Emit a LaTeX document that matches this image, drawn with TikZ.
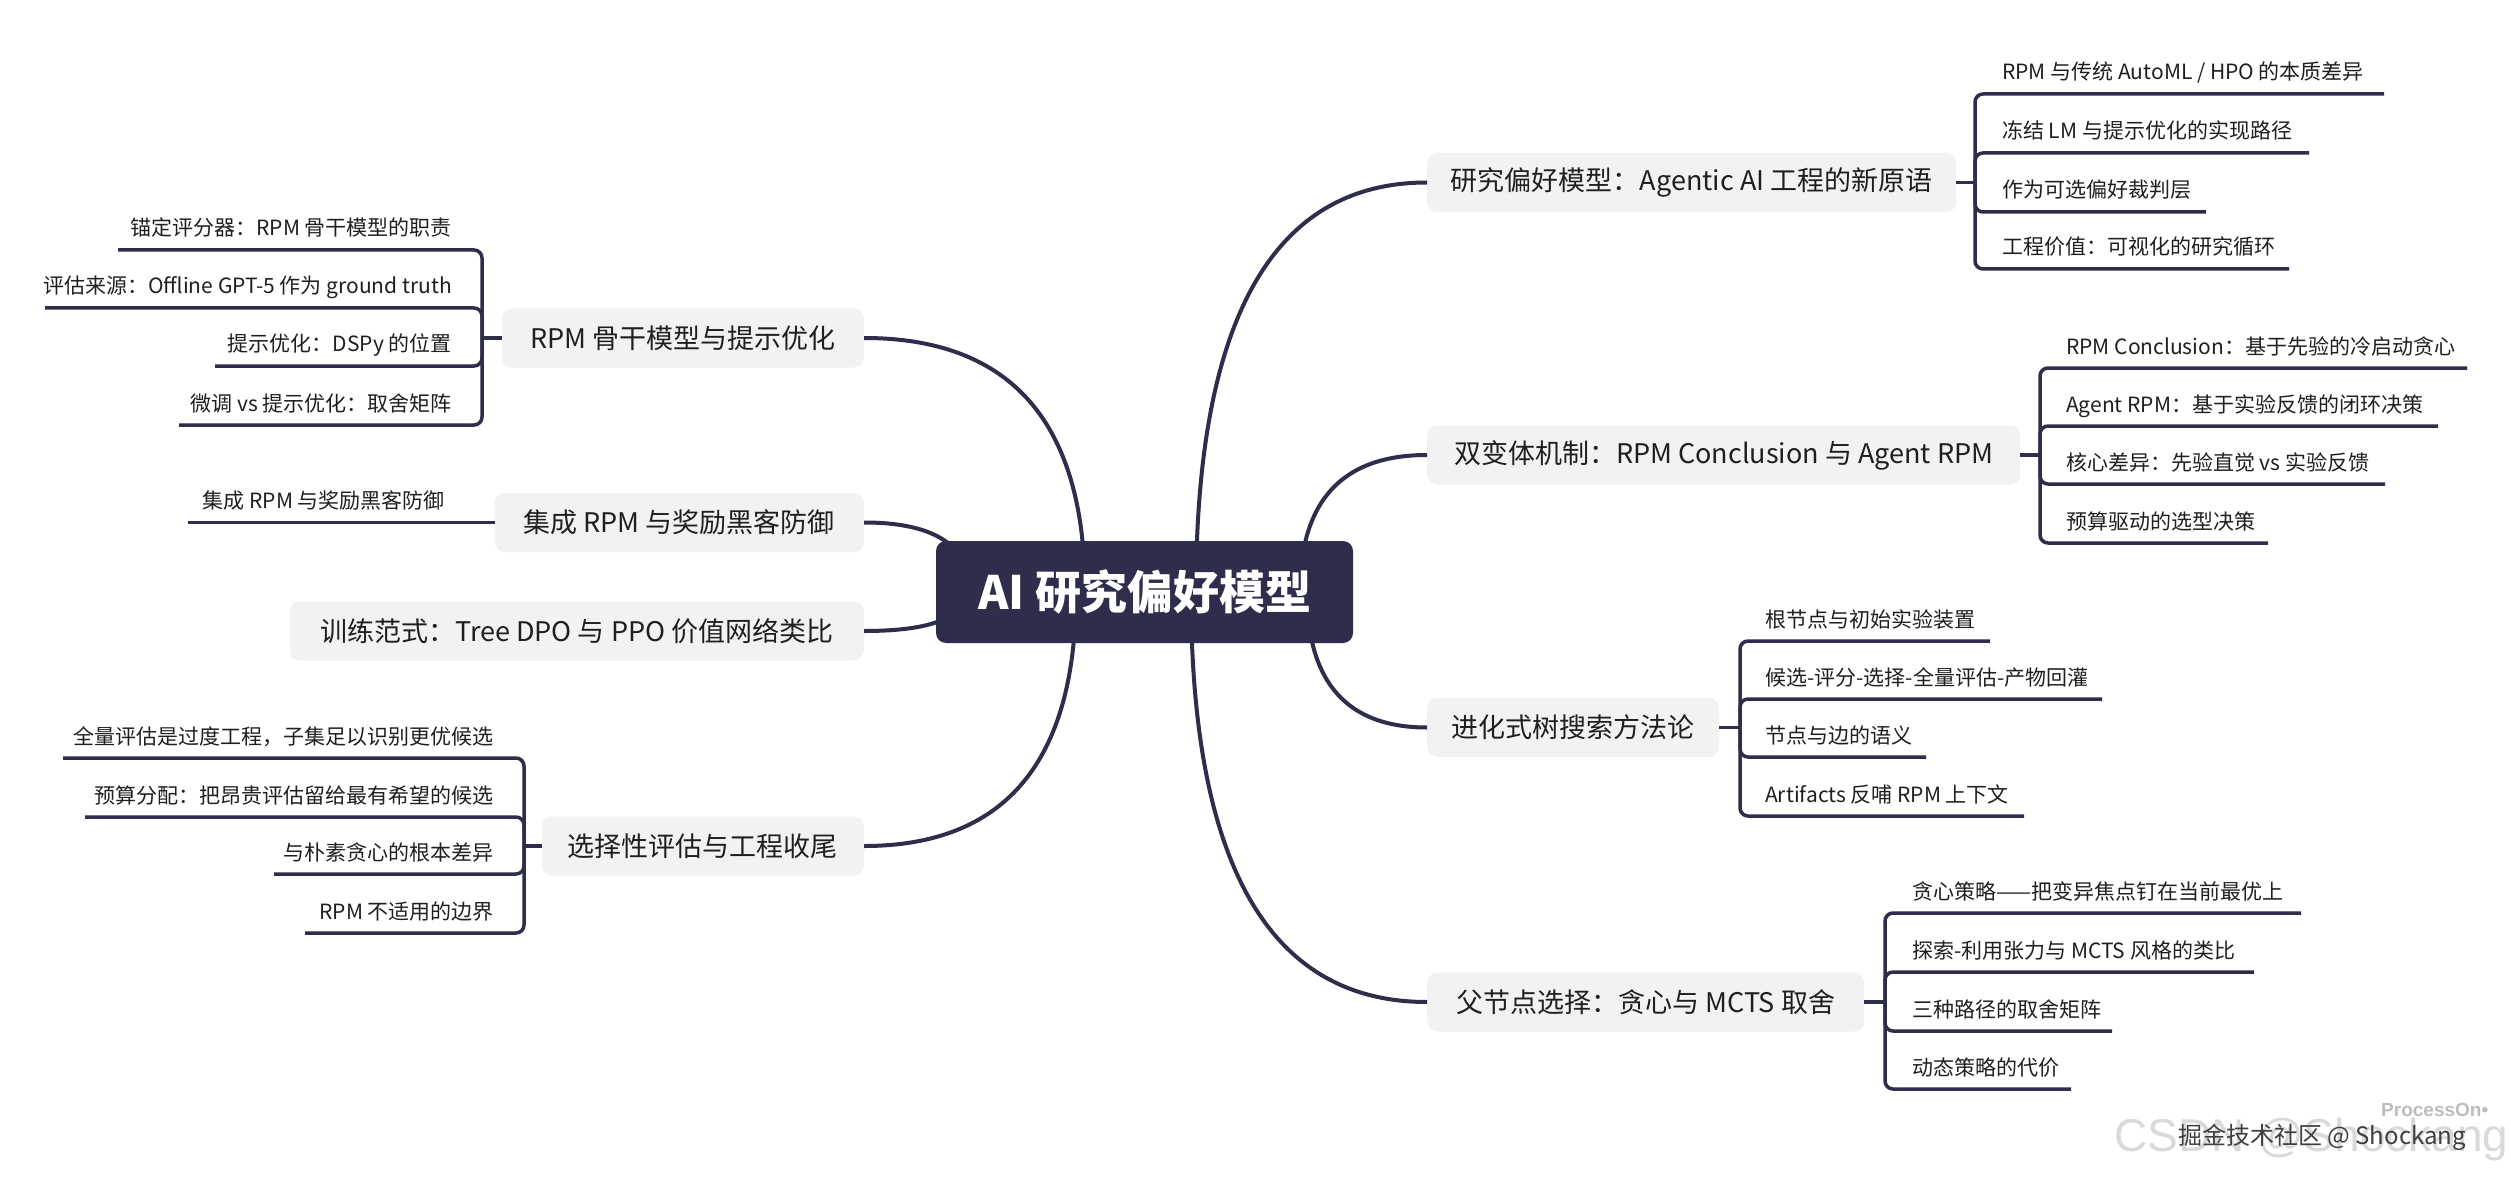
\documentclass[tikz,border=0pt]{standalone}
\usepackage{fontspec}
\setmainfont{Noto Sans CJK SC}
\newfontfamily\wmfont{Liberation Sans}
\usetikzlibrary{calc}
\definecolor{navy}{HTML}{2E2D4B}
\definecolor{boxgray}{HTML}{F2F2F3}
\definecolor{txt}{HTML}{1F1F1F}
\definecolor{wmlight}{HTML}{D9D9D9}
\definecolor{wmmid}{HTML}{BDBDBD}
\definecolor{wmdark}{HTML}{3F3F3F}
\newcommand\mmcurve[2]{\draw[branch] (#1) .. controls ($(#1)!0.6667!(#1|-#2)$) and ($(#2)!0.6667!(#1|-#2)$) .. (#2);}
\tikzset{
  rootbox/.style={fill=navy, rounded corners=10pt, text=white, font=\fontsize{46}{52}\selectfont\bfseries, minimum width=417pt, minimum height=102pt, inner sep=0pt},
  mainbox/.style={fill=boxgray, rounded corners=10pt, text=txt, font=\fontsize{27}{32}\selectfont, minimum height=59pt, inner xsep=23pt, inner ysep=0pt},
  subtext/.style={text=txt, font=\fontsize{21}{25}\selectfont, inner sep=0pt},
  branch/.style={draw=navy, line width=4pt},
  subline/.style={draw=navy, line width=3.5pt, rounded corners=8pt},
}
\begin{document}
\begin{tikzpicture}[x=1pt, y=-1pt]
\fill[white] (0,0) rectangle (2511,1182);
\useasboundingbox (0,0) rectangle (2511,1182);

% ---------- main nodes, right ----------
\node[mainbox, anchor=west, minimum width=529pt] (R1) at (1427,182.5) {研究偏好模型：Agentic AI 工程的新原语};
\node[mainbox, anchor=west, minimum width=593pt] (R2) at (1427,455) {双变体机制：RPM Conclusion 与 Agent RPM};
\node[mainbox, anchor=west, minimum width=292pt] (R3) at (1427,727.5) {进化式树搜索方法论};
\node[mainbox, anchor=west, minimum width=437pt] (R4) at (1427,1002) {父节点选择：贪心与 MCTS 取舍};
% ---------- main nodes, left ----------
\node[mainbox, anchor=east, minimum width=362pt] (L1) at (864,338) {RPM 骨干模型与提示优化};
\node[mainbox, anchor=east, minimum width=369pt] (L2) at (864,522.5) {集成 RPM 与奖励黑客防御};
\node[mainbox, anchor=east, minimum width=574pt] (L3) at (864,631) {训练范式：Tree DPO 与 PPO 价值网络类比};
\node[mainbox, anchor=east, minimum width=322pt] (L4) at (864,846) {选择性评估与工程收尾};

% ---------- R1 children ----------
\coordinate (b1) at (1975,182.5);
\draw[subline] (R1.east) -- (b1);
\node[subtext, anchor=base west] (r1a) at (2002,80) {RPM 与传统 AutoML / HPO 的本质差异};
\node[subtext, anchor=base west] (r1b) at (2002,139) {冻结 LM 与提示优化的实现路径};
\node[subtext, anchor=base west] (r1c) at (2002,198) {作为可选偏好裁判层};
\node[subtext, anchor=base west] (r1d) at (2002,255) {工程价值：可视化的研究循环};
\coordinate (r1ae) at (2384,94);
\coordinate (r1be) at (2309,153);
\coordinate (r1ce) at (2206,212);
\coordinate (r1de) at (2289,269);
\foreach \e in {r1ae,r1be,r1ce,r1de} \draw[subline] (b1) |- (\e);

% ---------- R2 children ----------
\coordinate (b2) at (2040,455);
\draw[subline] (R2.east) -- (b2);
\node[subtext, anchor=base west] (r2a) at (2066,354) {RPM Conclusion：基于先验的冷启动贪心};
\node[subtext, anchor=base west] (r2b) at (2066,412) {Agent RPM：基于实验反馈的闭环决策};
\node[subtext, anchor=base west] (r2c) at (2066,470) {核心差异：先验直觉 vs 实验反馈};
\node[subtext, anchor=base west] (r2d) at (2066,529) {预算驱动的选型决策};
\coordinate (r2ae) at (2467,368);
\coordinate (r2be) at (2438,426);
\coordinate (r2ce) at (2385,484);
\coordinate (r2de) at (2268,543);
\foreach \e in {r2ae,r2be,r2ce,r2de} \draw[subline] (b2) |- (\e);

% ---------- R3 children ----------
\coordinate (b3) at (1740,727.5);
\draw[subline] (R3.east) -- (b3);
\node[subtext, anchor=base west] (r3a) at (1765,627) {根节点与初始实验装置};
\node[subtext, anchor=base west] (r3b) at (1765,685) {候选-评分-选择-全量评估-产物回灌};
\node[subtext, anchor=base west] (r3c) at (1765,743) {节点与边的语义};
\node[subtext, anchor=base west] (r3d) at (1765,802) {Artifacts 反哺 RPM 上下文};
\coordinate (r3ae) at (1990,641);
\coordinate (r3be) at (2102,699);
\coordinate (r3ce) at (1926,757);
\coordinate (r3de) at (2024,816);
\foreach \e in {r3ae,r3be,r3ce,r3de} \draw[subline] (b3) |- (\e);

% ---------- R4 children ----------
\coordinate (b4) at (1885,1002);
\draw[subline] (R4.east) -- (b4);
\node[subtext, anchor=base west] (r4a) at (1912,899) {贪心策略——把变异焦点钉在当前最优上};
\node[subtext, anchor=base west] (r4b) at (1912,958) {探索-利用张力与 MCTS 风格的类比};
\node[subtext, anchor=base west] (r4c) at (1912,1017) {三种路径的取舍矩阵};
\node[subtext, anchor=base west] (r4d) at (1912,1075) {动态策略的代价};
\coordinate (r4ae) at (2301,913);
\coordinate (r4be) at (2254,972);
\coordinate (r4ce) at (2112,1031);
\coordinate (r4de) at (2071,1089);
\foreach \e in {r4ae,r4be,r4ce,r4de} \draw[subline] (b4) |- (\e);

% ---------- L1 children ----------
\coordinate (c1) at (482,338);
\draw[subline] (L1.west) -- (c1);
\node[subtext, anchor=base east] (l1a) at (452,236) {锚定评分器：RPM 骨干模型的职责};
\node[subtext, anchor=base east] (l1b) at (452,294) {评估来源：Offline GPT-5 作为 ground truth};
\node[subtext, anchor=base east] (l1c) at (452,352) {提示优化：DSPy 的位置};
\node[subtext, anchor=base east] (l1d) at (452,411) {微调 vs 提示优化：取舍矩阵};
\coordinate (l1ae) at (118,250);
\coordinate (l1be) at (45,308);
\coordinate (l1ce) at (215,366);
\coordinate (l1de) at (179,425);
\foreach \e in {l1ae,l1be,l1ce,l1de} \draw[subline] (c1) |- (\e);

% ---------- L2 child ----------
\node[subtext, anchor=base east] (l2a) at (445,508) {集成 RPM 与奖励黑客防御};
\coordinate (l2ae) at (188,522.5);
\draw[subline] (L2.west) -- (l2ae);

% ---------- L4 children ----------
\coordinate (c4) at (524,846);
\draw[subline] (L4.west) -- (c4);
\node[subtext, anchor=base east] (l4a) at (494,744) {全量评估是过度工程，子集足以识别更优候选};
\node[subtext, anchor=base east] (l4b) at (494,803) {预算分配：把昂贵评估留给最有希望的候选};
\node[subtext, anchor=base east] (l4c) at (494,860) {与朴素贪心的根本差异};
\node[subtext, anchor=base east] (l4d) at (494,919) {RPM 不适用的边界};
\coordinate (l4ae) at (63,758);
\coordinate (l4be) at (85,817);
\coordinate (l4ce) at (274,874);
\coordinate (l4de) at (305,933);
\foreach \e in {l4ae,l4be,l4ce,l4de} \draw[subline] (c4) |- (\e);

% ---------- curves from root ----------
\coordinate (sR1) at (1196,592);
\coordinate (sR2) at (1300,592);
\coordinate (sR3) at (1307,592);
\coordinate (sR4) at (1191,592);
\coordinate (sL1) at (1085,592);
\coordinate (sL2) at (970,592);
\coordinate (sL3) at (964,592);
\coordinate (sL4) at (1076,592);
\mmcurve{sR1}{R1.west}
\mmcurve{sR2}{R2.west}
\mmcurve{sR3}{R3.west}
\mmcurve{sR4}{R4.west}
\mmcurve{sL1}{L1.east}
\mmcurve{sL2}{L2.east}
\mmcurve{sL3}{L3.east}
\mmcurve{sL4}{L4.east}

% ---------- root ----------
\node[rootbox] (root) at (1144.5,592) {AI 研究偏好模型};

% ---------- watermark ----------
\node[anchor=west, inner sep=0pt, text=wmlight, font=\wmfont\fontsize{46}{50}\selectfont] (wm1) at (2114,1140) {CSDN @Shockang};
\node[anchor=west, inner sep=0pt, text=wmmid, font=\wmfont\fontsize{19}{22}\selectfont\bfseries] (wm2) at (2381,1110) {ProcessOn•};
\node[anchor=west, inner sep=0pt, text=wmdark, font=\fontsize{24}{28}\selectfont] (wm3) at (2178,1137) {掘金技术社区 @ Shockang};
\end{tikzpicture}
\end{document}
